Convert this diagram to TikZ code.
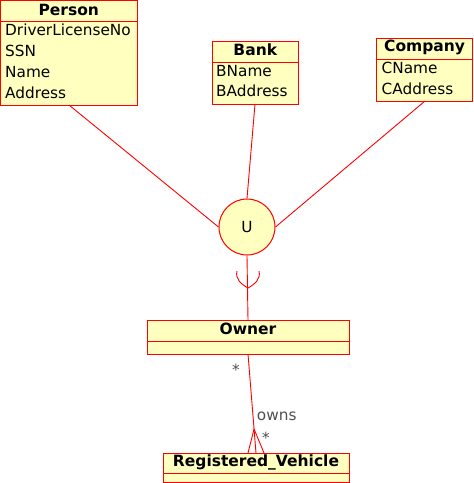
\documentclass[tikz,border=0pt]{standalone}
\usepackage{fontspec}
\setmainfont{DejaVu Sans}
\definecolor{umlfill}{HTML}{FFFFC0}
\definecolor{labelgray}{HTML}{505050}
\tikzset{
  entity/.style={draw=red, fill=umlfill, line width=1pt},
  divider/.style={draw=red, line width=1pt},
  title/.style={font=\fontsize{15.5}{18}\selectfont\bfseries, inner sep=0pt, anchor=base},
  attr/.style={font=\fontsize{15.3}{18}\selectfont, inner sep=0pt, anchor=base west},
  link/.style={draw=red, line width=0.9pt},
  mult/.style={font=\fontsize{15.3}{18}\selectfont, text=labelgray, inner sep=0pt, anchor=base}
}
\begin{document}
\begin{tikzpicture}[x=1pt,y=-1pt]
            \useasboundingbox (0,0) rectangle (474,483);
            % Person
            \draw[entity] (0.5,0.5) rectangle (137,105);
            \draw[divider] (0.5,21) -- (137,21);
            \node[title] (person) at (68.75,15) {Person};
            \node[attr] (dln) at (5,35.5) {DriverLicenseNo};
            \node[attr] (ssn) at (5,56.5) {SSN};
            \node[attr] (pname) at (5,77.5) {Name};
            \node[attr] (paddress) at (5,98.5) {Address};
            % Bank
            \draw[entity] (212,41.5) rectangle (298.5,104);
            \draw[divider] (212,62.3) -- (298.5,62.3);
            \node[title] (bank) at (255.3,55.7) {Bank};
            \node[attr] (bname) at (216,76.7) {BName};
            \node[attr] (baddress) at (216,96.7) {BAddress};
            % Company
            \draw[entity] (376.7,38.3) rectangle (472.5,101);
            \draw[divider] (376.7,59.3) -- (472.5,59.3);
            \node[title] (company) at (424.6,51.7) {Company};
            \node[attr] (cname) at (381.5,73.3) {CName};
            \node[attr] (caddress) at (381.5,94.3) {CAddress};
            % union
            \node[circle, draw=red, fill=umlfill, line width=1pt, minimum size=56pt, inner sep=0pt,
                  font=\fontsize{15.3}{18}\selectfont] (union) at (247,227) {U};
            \coordinate (personfoot) at (69,105);
            \coordinate (bankfoot) at (255,104);
            \coordinate (companyfoot) at (425,101);
            \draw[link] (personfoot) -- (union.west);
            \draw[link] (bankfoot) -- (union.north);
            \draw[link] (companyfoot) -- (union.east);
            % Owner
            \draw[entity] (147,320) rectangle (349,354);
            \draw[divider] (147,341) -- (349,341);
            \node[title] (owner) at (248,334.3) {Owner};
            \coordinate (ownertop) at (248,320);
            \draw[link] (union.south) -- (ownertop);
            \draw[link] (237,271) .. controls (235,279) and (241,284) .. (248,288)
                                  .. controls (255,284) and (261,279) .. (259,271);
            % Registered_Vehicle
            \draw[entity] (163,453) rectangle (349,482);
            \draw[divider] (163,473) -- (349,473);
            \node[title] (vehicle) at (256,466.7) {Registered\_Vehicle};
            \coordinate (ownerfoot) at (248,354);
            \coordinate (vehicletop) at (256,453);
            \coordinate (vleft) at (248,453);
            \coordinate (vright) at (264,453);
            \draw[link] (ownerfoot) -- (vehicletop) coordinate[pos=0.758] (crow);
            \draw[link] (vleft) -- (crow) -- (vright);
            \node[mult] (multowner) at (236,375) {*};
            \node[mult] (owns) at (276.7,420) {owns};
            \node[mult] (multvehicle) at (266,443) {*};
        \end{tikzpicture}
\end{document}
